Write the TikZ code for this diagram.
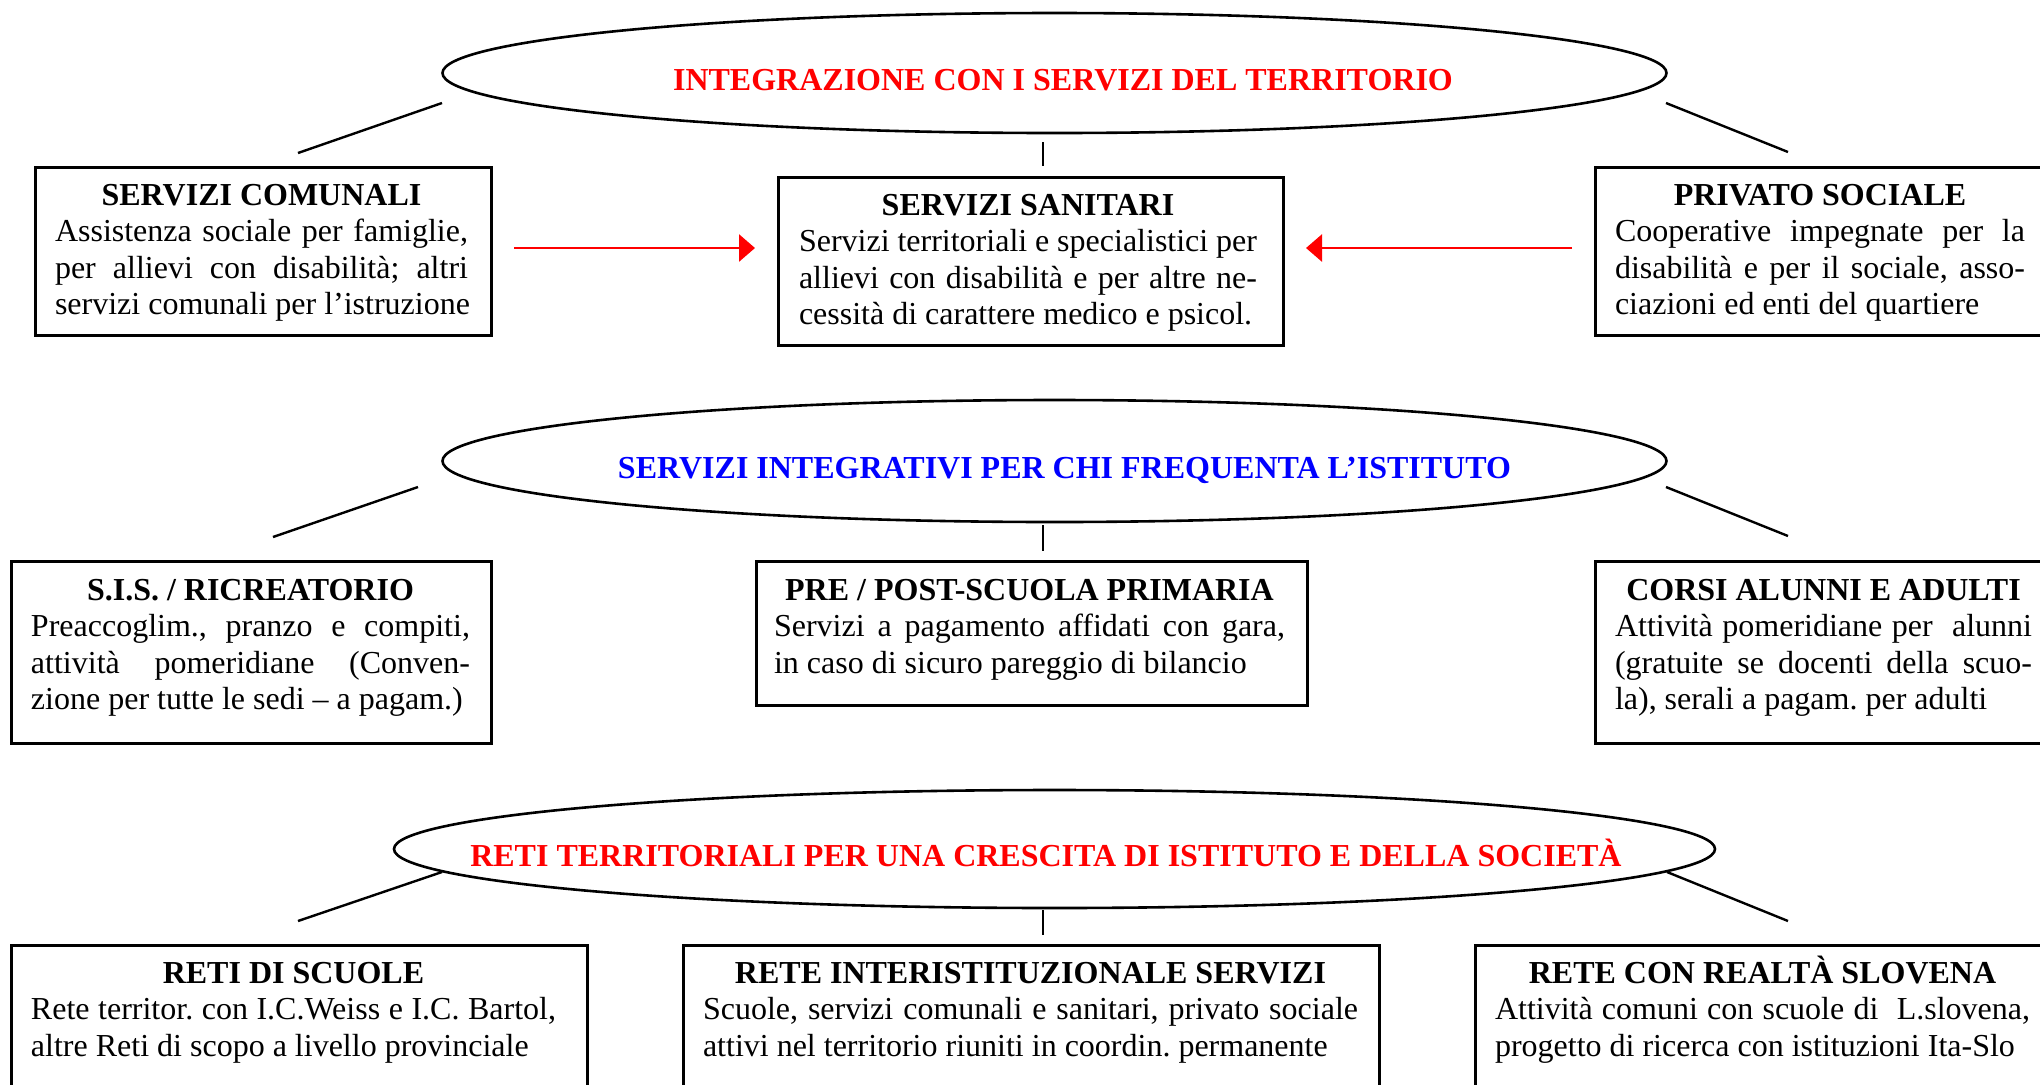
\documentclass[tikz,border=0pt]{standalone}
\usepackage{fontspec}
\setmainfont{Liberation Serif}
\usetikzlibrary{shapes.geometric,arrows.meta}
\definecolor{tred}{RGB}{255,0,0}
\definecolor{tblue}{RGB}{0,0,255}
\newcommand\normsp{\spaceskip=0pt\xspaceskip=0pt\relax}
\newcommand\jl[1]{{\normsp\makebox[\hsize][s]{#1}}}
\newcommand\lastln[1]{{\normsp\makebox[\hsize][l]{#1}}}
\newcommand\hd[1]{{\normsp\makebox[\hsize][c]{\bfseries #1}}}
\begin{document}
\frenchspacing
\begin{tikzpicture}[x=0.5pt,y=-0.5pt,
  frame/.style={draw=black, line width=1.3pt, inner sep=0pt, anchor=north west},
  oval/.style={ellipse, draw=black, line width=1.3pt, inner sep=0pt},
  title/.style={font=\fontsize{16pt}{18.25pt}\selectfont\bfseries, inner sep=0pt, anchor=base},
  txt/.style={font=\fontsize{16pt}{18.25pt}\selectfont\frenchspacing, inner sep=0pt, anchor=base, align=left},
  link/.style={draw=black, line width=1.2pt},
  redarrow/.style={draw=tred, line width=1.35pt, -{Triangle[length=8pt,width=13.5pt]}}]
\useasboundingbox (0,0) rectangle (2040,1084);
\clip (0,0) rectangle (2040,1084);

% ---------- row 1 ----------
\node[oval, minimum width=612pt, minimum height=60pt] (e1) at (1054.5,73) {};
\node[title, text=tred] (t1) at (1063,90) {INTEGRAZIONE CON I SERVIZI DEL TERRITORIO};

\node[frame, minimum width=228pt, minimum height=84pt] (b1) at (34,166) {};
\node[txt, text width=206.5pt] (x1) at (261.5,205) {\hd{SERVIZI COMUNALI}\\
\jl{Assistenza sociale per famiglie,}\\
\jl{per allievi con disabilità; altri}\\
\lastln{servizi comunali per l’istruzione}};

\node[frame, minimum width=252.5pt, minimum height=84pt] (b2) at (777,176) {};
\node[txt, text width=229pt] (x2) at (1028,215) {\hd{SERVIZI SANITARI}\\
\jl{Servizi territoriali e specialistici per}\\
\jl{allievi con disabilità e per altre ne-}\\
\lastln{cessità di carattere medico e psicol.}};

\node[frame, minimum width=233pt, minimum height=84pt] (b3) at (1594,166) {};
\node[txt, text width=205pt] (x3) at (1820,205) {\hd{PRIVATO SOCIALE}\\
\jl{Cooperative impegnate per la}\\
\jl{disabilità e per il sociale, asso-}\\
\lastln{ciazioni ed enti del quartiere}};

\coordinate (c1a) at (442,103); \coordinate (c1b) at (298,153);
\coordinate (c1c) at (1043,142); \coordinate (c1d) at (1043,166);
\coordinate (c1e) at (1666,103); \coordinate (c1f) at (1788,152);
\draw[link] (c1a) -- (c1b);
\draw[link] (c1c) -- (c1d);
\draw[link] (c1e) -- (c1f);

\coordinate (a1s) at (514,248); \coordinate (a1e) at (755,248);
\coordinate (a2s) at (1572,248); \coordinate (a2e) at (1306,248);
\draw[redarrow] (a1s) -- (a1e);
\draw[redarrow] (a2s) -- (a2e);

% ---------- row 2 ----------
\node[oval, minimum width=612pt, minimum height=61pt] (e2) at (1054.5,461) {};
\node[title, text=tblue] (t2) at (1064.5,478) {SERVIZI INTEGRATIVI PER CHI FREQUENTA L’ISTITUTO};

\node[frame, minimum width=240pt, minimum height=91pt] (b4) at (10,560) {};
\node[txt, text width=219.5pt] (x4) at (250.5,600) {\hd{S.I.S. / RICREATORIO}\\
\jl{Preaccoglim., pranzo e compiti,}\\
\jl{attività pomeridiane (Conven-}\\
\lastln{zione per tutte le sedi – a pagam.)}};

\node[frame, minimum width=275.5pt, minimum height=72pt] (b5) at (755,560) {};
\node[txt, text width=255.5pt] (x5) at (1029.5,600) {\hd{PRE / POST-SCUOLA PRIMARIA}\\
\jl{Servizi a pagamento affidati con gara,}\\
\lastln{in caso di sicuro pareggio di bilancio}};

\node[frame, minimum width=233pt, minimum height=91pt] (b6) at (1594,560) {};
\node[txt, text width=208.5pt] (x6) at (1823.5,600) {\hd{CORSI ALUNNI E ADULTI}\\
\jl{Attività pomeridiane per\ \ alunni}\\
\jl{(gratuite se docenti della scuo-}\\
\lastln{la), serali a pagam. per adulti}};

\coordinate (c2a) at (418,487); \coordinate (c2b) at (273,537);
\coordinate (c2c) at (1043,525); \coordinate (c2d) at (1043,551);
\coordinate (c2e) at (1666,487); \coordinate (c2f) at (1788,536);
\draw[link] (c2a) -- (c2b);
\draw[link] (c2c) -- (c2d);
\draw[link] (c2e) -- (c2f);

% ---------- row 3 ----------
\node[oval, minimum width=660.5pt, minimum height=59pt] (e3) at (1054.5,849) {};
\node[title, text=tred] (t3) at (1046,866) {RETI TERRITORIALI PER UNA CRESCITA DI ISTITUTO E DELLA SOCIETÀ};

\node[frame, minimum width=288pt, minimum height=83pt] (b7) at (10,944) {};
\node[txt, text width=262.5pt] (x7) at (293.5,983) {\hd{RETI DI SCUOLE}\\
\jl{Rete territor. con I.C.Weiss e I.C. Bartol,}\\
\lastln{altre Reti di scopo a livello provinciale}};

\node[frame, minimum width=348pt, minimum height=83pt] (b8) at (682,944) {};
\node[txt, text width=327.5pt] (x8) at (1030.5,983) {\hd{RETE INTERISTITUZIONALE SERVIZI}\\
\jl{Scuole, servizi comunali e sanitari, privato sociale}\\
\lastln{attivi nel territorio riuniti in coordin. permanente}};

\node[frame, minimum width=293pt, minimum height=83pt] (b9) at (1474,944) {};
\node[txt, text width=267.5pt] (x9) at (1762.5,983) {\hd{RETE CON REALTÀ SLOVENA}\\
\jl{Attività comuni con scuole di\ \ L.slovena,}\\
\lastln{progetto di ricerca con istituzioni Ita-Slo}};

\coordinate (c3a) at (442,872); \coordinate (c3b) at (298,921);
\coordinate (c3c) at (1043,910); \coordinate (c3d) at (1043,935);
\coordinate (c3e) at (1667,872); \coordinate (c3f) at (1788,921);
\draw[link] (c3a) -- (c3b);
\draw[link] (c3c) -- (c3d);
\draw[link] (c3e) -- (c3f);
\end{tikzpicture}
\end{document}
